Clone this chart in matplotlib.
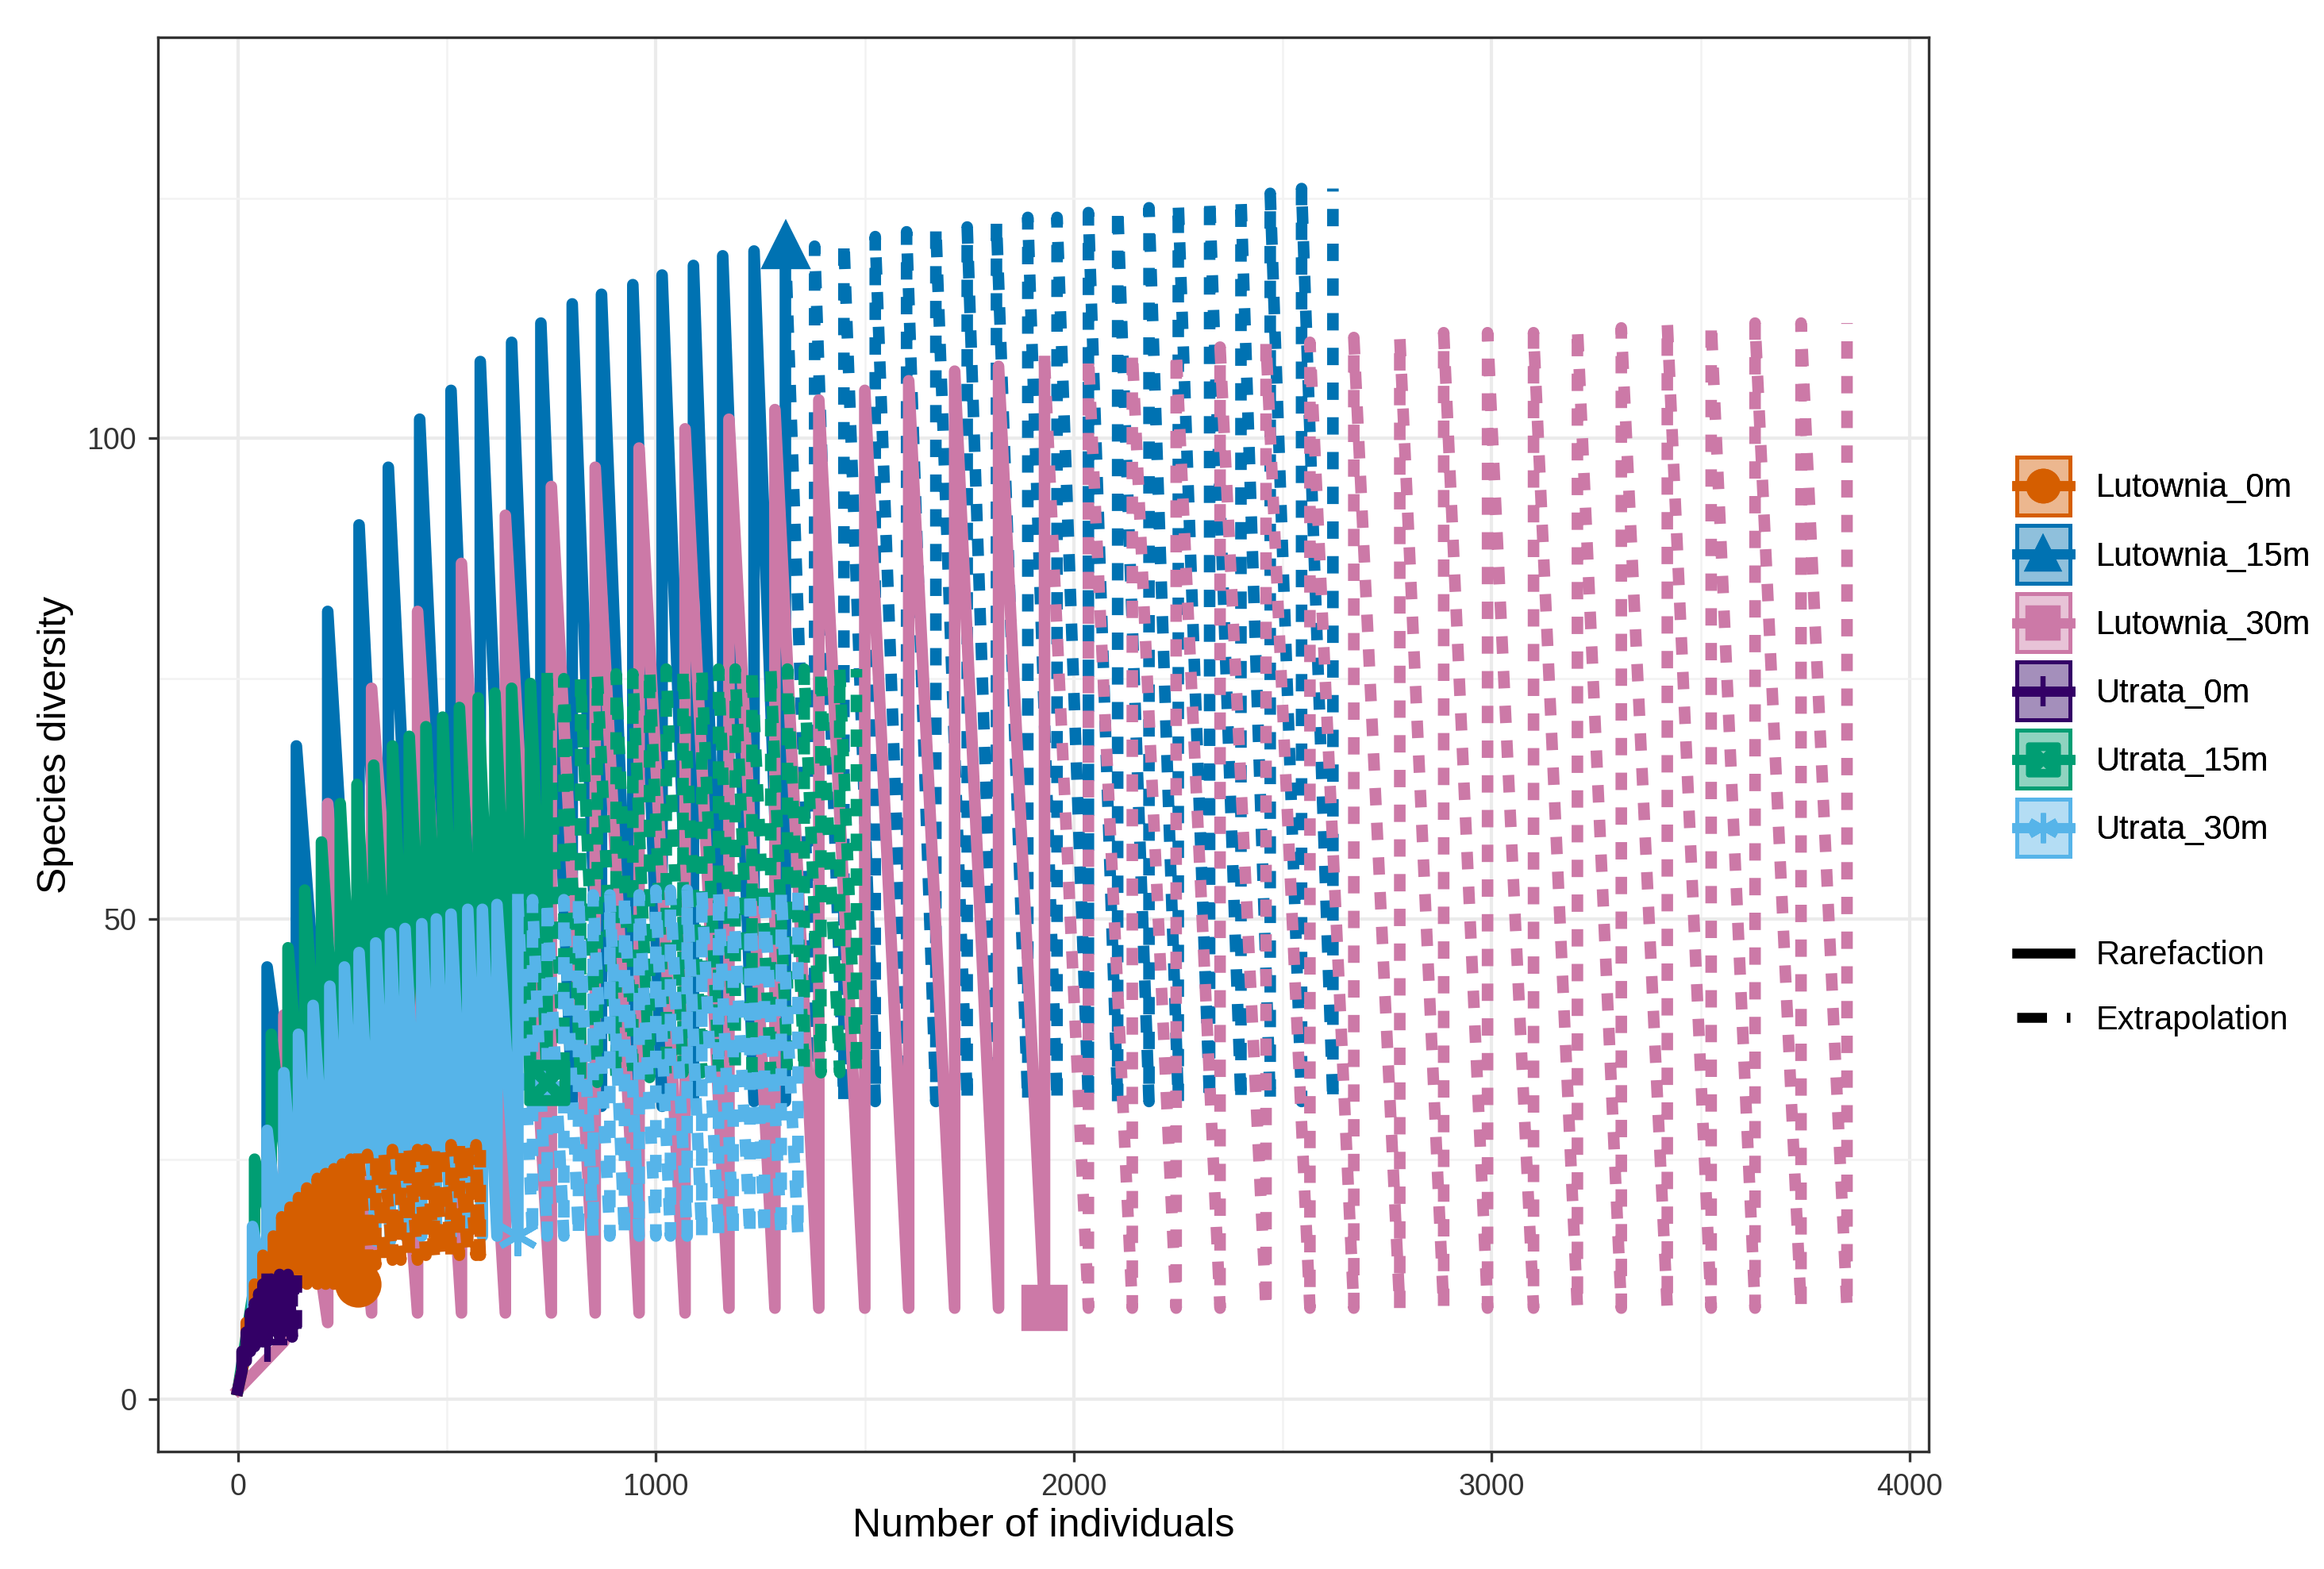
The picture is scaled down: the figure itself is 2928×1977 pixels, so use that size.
import matplotlib.pyplot as plt
import numpy as np
from matplotlib.lines import Line2D
from matplotlib.legend_handler import HandlerBase
from matplotlib.patches import Rectangle

plt.rcParams['font.family'] = ['Liberation Sans', 'DejaVu Sans']

sites = ['Lutownia_0m', 'Lutownia_15m', 'Lutownia_30m', 'Utrata_0m', 'Utrata_15m', 'Utrata_30m']
colors = {'Lutownia_0m': '#D55E00', 'Lutownia_15m': '#0072B2', 'Lutownia_30m': '#CC79A7',
          'Utrata_0m': '#330066', 'Utrata_15m': '#009E73', 'Utrata_30m': '#56B4E9'}
markers = {'Lutownia_0m': 'o', 'Lutownia_15m': '^', 'Lutownia_30m': 's',
           'Utrata_0m': '+', 'Utrata_15m': r'$\boxtimes$', 'Utrata_30m': (6, 2, 0)}

# rarefaction (x, q0 high, q2 low) and extrapolation per site
rare_x = {
    'Lutownia_15m': [0, 70, 140, 215, 290, 360, 435, 510, 580, 655, 725, 800, 870, 945, 1015, 1090, 1160, 1235, 1310],
    'Lutownia_30m': [0, 110, 215, 320, 430, 535, 640, 750, 855, 960, 1070, 1175, 1285, 1390, 1500, 1605, 1715, 1820, 1930],
    'Utrata_15m': [0, 40, 80, 120, 160, 200, 245, 285, 325, 370, 410, 450, 490, 530, 575, 615, 655, 700, 740],
    'Utrata_30m': [0, 35, 70, 110, 145, 180, 220, 255, 290, 330, 365, 400, 440, 475, 510, 550, 585, 620, 670],
    'Lutownia_0m': [0, 20, 40, 60, 85, 105, 125, 145, 165, 190, 210, 230, 250, 270, 290],
    'Utrata_0m': [0, 10, 20, 30, 40, 50, 60, 70],
}
rare_hi = {
    'Lutownia_15m': [1, 45, 68, 82, 91, 97, 102, 105, 108, 110, 112, 114, 115, 116, 117, 118, 119, 119.5, 120],
    'Lutownia_30m': [1, 40, 62, 74, 82, 87, 92, 95, 97, 99, 101, 102, 103, 104, 105, 106, 107, 107.5, 108],
    'Utrata_15m': [1, 25, 38, 47, 53, 58, 62, 64, 66, 68, 69, 70, 71, 72, 73, 73.5, 74, 74.5, 75],
    'Utrata_30m': [1, 18, 28, 34, 38, 41, 43, 45, 46.5, 47.5, 48.5, 49, 49.5, 50, 50.5, 51, 51, 51.5, 52],
    'Lutownia_0m': [1, 8, 12, 15, 17, 19, 20, 21, 22, 23, 23.5, 24, 24.5, 25, 25],
    'Utrata_0m': [1, 5, 7, 9, 10, 11, 12, 12.5],
}
rare_lo = {
    'Lutownia_15m': [1, 15, 22, 25, 27, 28, 29, 29.5, 30, 30, 30.5, 30.5, 30.5, 30.5, 30.5, 31, 31, 31, 31],
    'Lutownia_30m': [1, 6, 8, 9, 9, 9, 9, 9, 9, 9, 9, 9.5, 9.5, 9.5, 9.5, 9.5, 9.5, 9.5, 9.5],
    'Utrata_15m': [1, 12, 18, 22, 25, 27, 28, 29, 30, 30.5, 31, 31.5, 32, 32, 32.5, 32.5, 33, 33, 33],
    'Utrata_30m': [1, 8, 11, 13, 14, 15, 15.5, 16, 16, 16.5, 16.5, 17, 17, 17, 17, 17, 17, 17, 17],
    'Lutownia_0m': [1, 5, 8, 9, 10, 11, 11.5, 12, 12, 12, 12, 12, 12, 12, 12],
    'Utrata_0m': [1, 3, 4, 5, 5.5, 6, 6, 6],
}
ext_x = {
    'Lutownia_15m': [1380, 1450, 1525, 1600, 1670, 1745, 1815, 1890, 1960, 2035, 2105, 2180, 2250, 2325, 2400, 2470, 2545, 2620],
    'Lutownia_30m': [2035, 2140, 2245, 2350, 2460, 2565, 2670, 2780, 2885, 2990, 3100, 3205, 3310, 3420, 3525, 3630, 3740, 3850],
    'Utrata_15m': [780, 820, 860, 905, 945, 985, 1025, 1065, 1110, 1150, 1190, 1230, 1275, 1315, 1355, 1395, 1440, 1480],
    'Utrata_30m': [705, 740, 780, 815, 850, 890, 925, 960, 1000, 1035, 1075, 1110, 1150, 1185, 1225, 1260, 1300, 1340],
    'Lutownia_0m': [310, 330, 350, 370, 390, 410, 430, 450, 470, 490, 510, 530, 550, 570, 580],
    'Utrata_0m': [80, 90, 100, 110, 120, 130, 140],
}
ext_hi = {
    'Lutownia_15m': [120, 120.5, 121, 121.5, 122, 122, 122.5, 123, 123, 123.5, 124, 124, 124.5, 125, 125, 125.5, 126, 126],
    'Lutownia_30m': [108.5, 109, 109, 109.5, 110, 110, 110.5, 110.5, 111, 111, 111, 111.5, 111.5, 112, 112, 112, 112, 112],
    'Utrata_15m': [75, 75, 75.5, 75.5, 75.5, 76, 76, 76, 76, 76, 76, 76, 76, 76, 76, 76, 76, 76],
    'Utrata_30m': [52, 52, 52, 52.5, 52.5, 52.5, 52.5, 52.5, 53, 53, 53, 53, 53, 53, 53, 53, 53, 53],
    'Lutownia_0m': [25.5, 25.5, 25.5, 26, 26, 26, 26, 26, 26, 26.5, 26.5, 26.5, 26.5, 26.5, 26.5],
    'Utrata_0m': [12.5, 12.5, 13, 13, 13, 13, 13],
}
ext_lo = {
    'Lutownia_15m': [31] * 18,
    'Lutownia_30m': [9.5] * 18,
    'Utrata_15m': [33, 33, 33, 33.5, 33.5, 33.5, 33.5, 34, 34, 34, 34, 34, 34, 34, 34, 34, 34, 34],
    'Utrata_30m': [17] * 18,
    'Lutownia_0m': [14, 14, 14, 14.5, 14.5, 14.5, 14.5, 15, 15, 15, 15, 15, 15, 15, 15],
    'Utrata_0m': [6.5] * 7,
}
obs_pt = {'Lutownia_15m': (1310, 120), 'Lutownia_30m': (1930, 9.5), 'Utrata_15m': (740, 33),
          'Utrata_30m': (670, 17), 'Lutownia_0m': (287, 12), 'Utrata_0m': (70, 6)}

draw_order = ['Lutownia_15m', 'Lutownia_30m', 'Utrata_15m', 'Utrata_30m', 'Lutownia_0m', 'Utrata_0m']


def zigzag(xs, hi, lo):
    px, py = [], []
    for x, h, l in zip(xs, hi, lo):
        px += [x, x]
        py += [l, h]
    return px, py


fig = plt.figure(figsize=(9.76, 6.59), dpi=300)
ax = fig.add_axes([0.068, 0.075, 0.762, 0.901])

for s in draw_order:
    c = colors[s]
    rx, ry = zigzag(rare_x[s], rare_hi[s], rare_lo[s])
    ex, ey = zigzag(ext_x[s], ext_hi[s], ext_lo[s])
    ax.plot(rx, ry, color=c, lw=3.5, solid_joinstyle='round', zorder=3)
    ax.plot([rx[-1]] + ex, [ry[-1]] + ey, color=c, lw=3.5, ls=(0, (1.5, 1.5)), zorder=3)
    ox, oy = obs_pt[s]
    ax.plot(ox, oy, marker=markers[s], color=c, ms=12, mew=2, ls='none', zorder=4)

ax.set_xlim(-191, 4046)
ax.set_ylim(-5.4, 141.7)
ax.set_xticks([0, 1000, 2000, 3000, 4000])
ax.set_yticks([0, 50, 100])
ax.set_xticks([500, 1500, 2500, 3500], minor=True)
ax.set_yticks([25, 75, 125], minor=True)
ax.grid(which='major', color='#EBEBEB', lw=1.0)
ax.grid(which='minor', color='#F2F2F2', lw=0.6)
ax.set_axisbelow(True)
ax.tick_params(which='minor', length=0)
ax.tick_params(which='major', labelsize=9, colors='#333333', length=3)
for sp in ax.spines.values():
    sp.set_color('#333333')
    sp.set_linewidth(0.8)
ax.set_xlabel('Number of individuals', fontsize=12, labelpad=2)
ax.set_ylabel('Species diversity', fontsize=12)


class BoxHandler(HandlerBase):
    def __init__(self, color, marker):
        super().__init__()
        self.color, self.marker = color, marker

    def create_artists(self, legend, orig, xd, yd, w, h, fs, trans):
        r = Rectangle((-xd, -yd - h * 0.35), w, h * 1.7, facecolor=self.color, alpha=0.25,
                      edgecolor=self.color, lw=1.2, transform=trans)
        r2 = Rectangle((-xd, -yd - h * 0.35), w, h * 1.7, facecolor='none',
                       edgecolor=self.color, lw=1.2, transform=trans)
        ln = Line2D([-xd, -xd + w], [-yd + h / 2] * 2, color=self.color, lw=3, transform=trans)
        mk = Line2D([-xd + w / 2], [-yd + h / 2], marker=self.marker, color=self.color,
                    ms=9, mew=1.5, transform=trans)
        return [r, r2, ln, mk]


handles = [Line2D([], []) for _ in sites]
leg1 = fig.legend(handles, sites, loc='upper left', bbox_to_anchor=(0.855, 0.72),
                  handler_map={h: BoxHandler(colors[s], markers[s]) for h, s in zip(handles, sites)},
                  frameon=False, fontsize=10, handlelength=1.6, handleheight=1.2, labelspacing=1.0)
fig.add_artist(leg1)
lh = [Line2D([], [], color='black', lw=3), Line2D([], [], color='black', lw=3, ls=(0, (3, 2)))]
fig.legend(lh, ['Rarefaction', 'Extrapolation'], loc='upper left', bbox_to_anchor=(0.855, 0.42),
           frameon=False, fontsize=10, handlelength=1.6, labelspacing=1.0)

fig.savefig('out.png', dpi=300, facecolor='white')
